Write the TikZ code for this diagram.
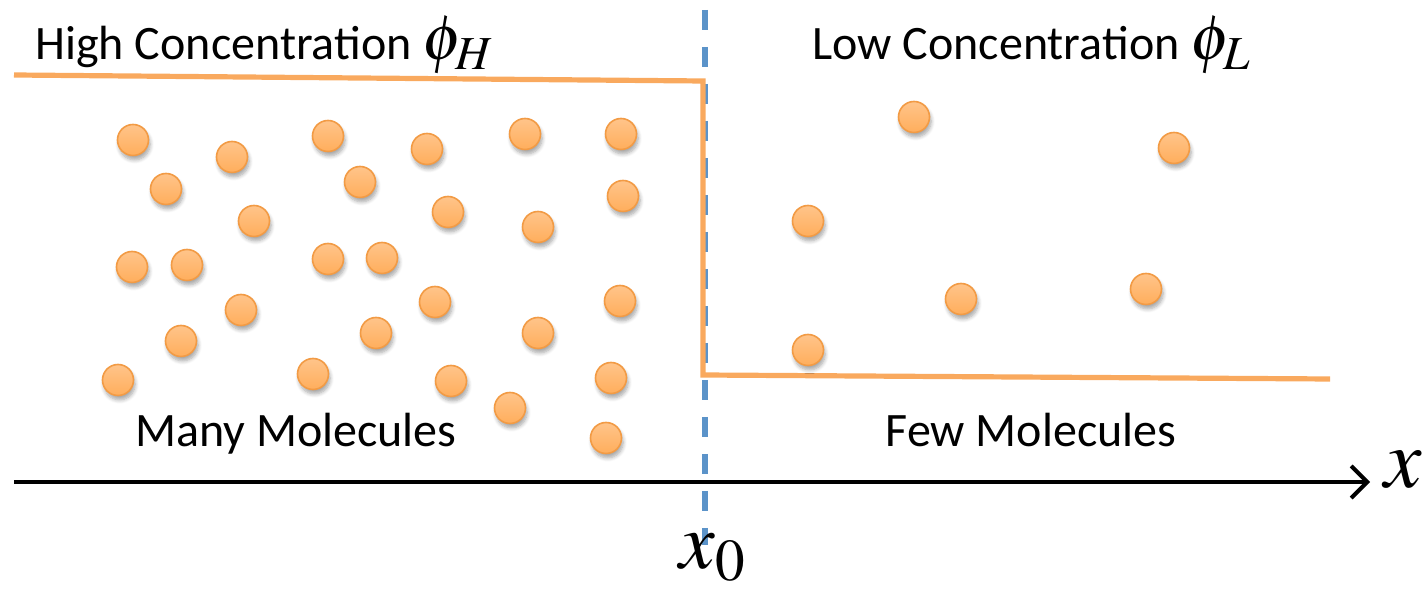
\documentclass[tikz,border=0pt]{standalone}
\usepackage{mathptmx}
\usepackage{fontspec}
\setmainfont{Carlito}
\usetikzlibrary{arrows.meta,shadows.blur}
\definecolor{molfill}{HTML}{FFAE5C}
\definecolor{molhi}{HTML}{FFC48A}
\definecolor{molline}{HTML}{F29B45}
\definecolor{conc}{HTML}{F9A95E}
\definecolor{divider}{HTML}{5B93C9}
\tikzset{
  mol/.style={circle, minimum size=15.5pt, inner sep=0pt, draw=molline, line width=0.8pt,
    top color=molhi, bottom color=molfill,
    blur shadow={shadow xshift=0.8pt, shadow yshift=-2.2pt, shadow blur steps=6, shadow opacity=35}},
  lbl/.style={inner sep=0pt, font=\fontsize{24}{28}\selectfont},
  concline/.style={draw=conc, line width=2.6pt, line join=miter},
  divline/.style={draw=divider, line width=2.6pt, dash pattern=on 10pt off 8.5pt},
  axis/.style={draw=black, line width=2pt, -{Straight Barb[length=8pt,width=16pt,line width=2pt]}}
}
\begin{document}
\begin{tikzpicture}[x=0.5pt,y=-0.5pt]
\useasboundingbox (0,0) rectangle (1424,592);
% divider
\coordinate (dtop) at (705,10);
\coordinate (dbot) at (705,545);
\draw[divline] (dtop) -- (dbot);
% concentration profile
\coordinate (c1) at (14,75);
\coordinate (c2) at (703,81);
\coordinate (c3) at (703,375);
\coordinate (c4) at (1330,379);
\draw[concline] (c1) -- (c2) -- (c3) -- (c4);
% axis
\coordinate (a0) at (14,482);
\coordinate (a1) at (1370,482);
\draw[axis] (a0) -- (a1);
\node[inner sep=0pt, anchor=west] (xlab) at (1384,470) {\fontsize{42}{46}\selectfont$x$};
\node[inner sep=0pt] (x0) at (713,558) {\fontsize{40}{44}\selectfont$x_0$};
% labels
\node[lbl, anchor=base west] (high) at (35,60) {High Concentration \fontsize{32}{34}\selectfont$\phi_H$};
\node[lbl, anchor=base west] (low) at (812,60) {Low Concentration \fontsize{32}{34}\selectfont$\phi_L$};
\node[lbl, anchor=base] (many) at (296,447) {Many Molecules};
\node[lbl, anchor=base] (few) at (1031,447) {Few Molecules};
% molecules
\foreach \x/\y [count=\i] in {133/140,232/157,328/136,427/149,525/134,621/134,
  166/189,360/182,254/221,448/212,538/227,623/196,
  132/267,187/265,328/259,382/258,241/310,435/302,620/301,
  181/341,376/333,538/333,313/374,118/380,451/381,611/378,510/408,606/438,
  914/117,1174/148,808/221,961/299,1146/289,808/350}
  \node[mol] (m\i) at (\x,\y) {};
\end{tikzpicture}
\end{document}
